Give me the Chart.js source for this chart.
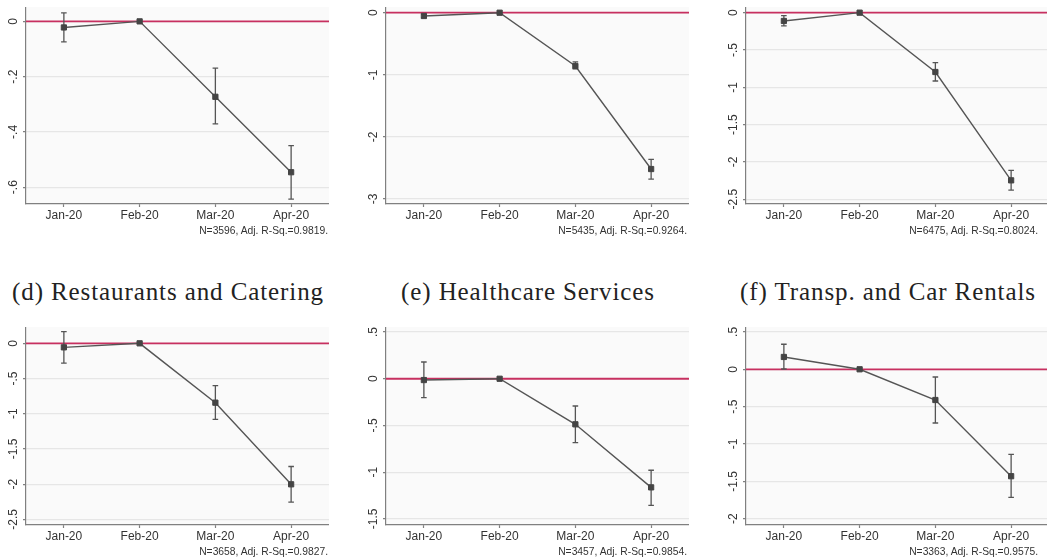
<!DOCTYPE html>
<html><head><meta charset="utf-8">
<script src="https://cdn.jsdelivr.net/npm/chart.js@4.4.1/dist/chart.umd.min.js"></script>
<style>
html,body{margin:0;padding:0;background:#fff;width:1047px;height:558px;overflow:hidden;position:relative;}
canvas{position:absolute;}
.t{position:absolute;font-family:"Liberation Serif",serif;font-size:25px;letter-spacing:0.9px;color:#222;white-space:nowrap;line-height:25px;transform:translateX(-50%);}
.n{position:absolute;font-family:"Liberation Sans",Arial,sans-serif;font-size:10.3px;color:#333;white-space:nowrap;line-height:12px;text-align:right;}
</style></head><body>
<canvas id="pa" width="329" height="227" style="left:0px;top:7px"></canvas>
<canvas id="pb" width="329" height="227" style="left:360px;top:7px"></canvas>
<canvas id="pc" width="329" height="227" style="left:720px;top:7px"></canvas>
<canvas id="pd" width="329" height="228" style="left:0px;top:327px"></canvas>
<canvas id="pe" width="329" height="228" style="left:360px;top:327px"></canvas>
<canvas id="pf" width="329" height="228" style="left:720px;top:327px"></canvas>
<div id="td" class="t" style="left:168px;top:279px"></div>
<div id="te" class="t" style="left:528px;top:279px"></div>
<div id="tf" class="t" style="left:888px;top:279px"></div>
<div id="na" class="n" style="right:719px;top:225px"></div>
<div id="nb" class="n" style="right:360px;top:225px"></div>
<div id="nc" class="n" style="right:9px;top:225px"></div>
<div id="nd" class="n" style="right:719px;top:546px"></div>
<div id="ne" class="n" style="right:360px;top:546px"></div>
<div id="nf" class="n" style="right:9px;top:546px"></div>
<script>
// ---- data ----
const months = ['Jan-20', 'Feb-20', 'Mar-20', 'Apr-20'];

const aCoef = [-0.022, 0, -0.273, -0.546];
const aLo   = [-0.074, 0, -0.371, -0.643];
const aHi   = [ 0.031, 0, -0.169, -0.450];
const aTicks = [0, -0.2, -0.4, -0.6];
const aTickLabels = ['0', '-.2', '-.4', '-.6'];
const aNote = 'N=3596, Adj. R-Sq.=0.9819.';

const bCoef = [-0.053, 0, -0.858, -2.517];
const bLo   = [-0.080, 0, -0.905, -2.680];
const bHi   = [-0.026, 0, -0.790, -2.360];
const bTicks = [0, -1, -2, -3];
const bTickLabels = ['0', '-1', '-2', '-3'];
const bNote = 'N=5435, Adj. R-Sq.=0.9264.';

const cCoef = [-0.111, 0, -0.795, -2.247];
const cLo   = [-0.178, 0, -0.916, -2.377];
const cHi   = [-0.040, 0, -0.670, -2.113];
const cTicks = [0, -0.5, -1, -1.5, -2, -2.5];
const cTickLabels = ['0', '-.5', '-1', '-1.5', '-2', '-2.5'];
const cNote = 'N=6475, Adj. R-Sq.=0.8024.';

const dTitle = '(d) Restaurants and Catering';
const dCoef = [-0.057, 0, -0.843, -2.003];
const dLo   = [-0.280, 0, -1.080, -2.256];
const dHi   = [ 0.165, 0, -0.602, -1.750];
const dTicks = [0, -0.5, -1, -1.5, -2, -2.5];
const dTickLabels = ['0', '-.5', '-1', '-1.5', '-2', '-2.5'];
const dNote = 'N=3658, Adj. R-Sq.=0.9827.';

const eTitle = '(e) Healthcare Services';
const eCoef = [-0.014, 0, -0.488, -1.163];
const eLo   = [-0.203, 0, -0.685, -1.355];
const eHi   = [ 0.179, 0, -0.292, -0.980];
const eTicks = [0.5, 0, -0.5, -1, -1.5];
const eTickLabels = ['.5', '0', '-.5', '-1', '-1.5'];
const eNote = 'N=3457, Adj. R-Sq.=0.9854.';

const fTitle = '(f) Transp. and Car Rentals';
const fCoef = [0.165, 0, -0.411, -1.431];
const fLo   = [0.004, 0, -0.719, -1.714];
const fHi   = [0.335, 0, -0.103, -1.140];
const fTicks = [0.5, 0, -0.5, -1, -1.5, -2];
const fTickLabels = ['.5', '0', '-.5', '-1', '-1.5', '-2'];
const fNote = 'N=3363, Adj. R-Sq.=0.9575.';

// ---- drawing ----
const FONT = '"Liberation Sans", Arial, sans-serif';
const AXIS = '#808080';

const deco = {
  id: 'deco',
  beforeDraw(chart) {
    const {ctx, chartArea: a} = chart;
    ctx.save();
    ctx.fillStyle = '#fafafa';
    ctx.fillRect(a.left, a.top, a.right - a.left, a.bottom - a.top);
    ctx.restore();
  },
  beforeDatasetsDraw(chart, args, opts) {
    const {ctx, chartArea: a, scales: {x, y}} = chart;
    const y0 = y.getPixelForValue(0);
    ctx.save();
    ctx.strokeStyle = '#c73060';
    ctx.lineWidth = 1.8;
    ctx.beginPath(); ctx.moveTo(a.left, y0); ctx.lineTo(a.right, y0); ctx.stroke();
    ctx.strokeStyle = '#555';
    ctx.lineWidth = 1.3;
    opts.lo.forEach((lo, i) => {
      const hi = opts.hi[i];
      if (lo === hi) return;
      const px = x.getPixelForValue(i);
      const p1 = y.getPixelForValue(lo), p2 = y.getPixelForValue(hi);
      ctx.beginPath();
      ctx.moveTo(px, p1); ctx.lineTo(px, p2);
      ctx.moveTo(px - 2.8, p1); ctx.lineTo(px + 2.8, p1);
      ctx.moveTo(px - 2.8, p2); ctx.lineTo(px + 2.8, p2);
      ctx.stroke();
    });
    ctx.restore();
  },
  afterDraw(chart, args, opts) {
    const {ctx, chartArea: a, scales: {y}} = chart;
    ctx.save();
    ctx.font = '12px ' + FONT;
    ctx.fillStyle = '#333';
    ctx.textAlign = 'center';
    ctx.textBaseline = 'middle';
    y.ticks.forEach((t, i) => {
      const py = y.getPixelForValue(t.value);
      ctx.save();
      ctx.translate(a.left - 12.5, py);
      ctx.rotate(-Math.PI / 2);
      ctx.fillText(opts.labels[i], 0, 0);
      ctx.restore();
    });
    ctx.restore();
  }
};

function panel(id, coef, lo, hi, ticks, tickLabels, ymin, ymax) {
  new Chart(document.getElementById(id), {
    type: 'line',
    data: {
      labels: months,
      datasets: [{
        data: coef,
        borderColor: '#555',
        borderWidth: 1.4,
        pointStyle: 'rect',
        pointRadius: 3.7,
        pointBackgroundColor: '#444',
        pointBorderColor: '#444',
        pointBorderWidth: 1,
        tension: 0,
        clip: false
      }]
    },
    options: {
      responsive: false,
      animation: false,
      events: [],
      layout: {padding: 0, autoPadding: false},
      plugins: {
        legend: {display: false},
        tooltip: {enabled: false},
        deco: {lo: lo, hi: hi, labels: tickLabels}
      },
      scales: {
        x: {
          type: 'category',
          offset: true,
          grid: {drawOnChartArea: false, drawTicks: true, tickLength: 3, tickColor: AXIS, tickWidth: 1.2},
          border: {color: AXIS, width: 1.2},
          ticks: {font: {family: FONT, size: 12}, color: '#333', padding: 1, maxRotation: 0, autoSkip: false},
          afterFit: s => { s.height = 30; }
        },
        y: {
          type: 'linear',
          min: ymin,
          max: ymax,
          afterBuildTicks: s => { s.ticks = ticks.map(v => ({value: v})); },
          ticks: {display: false},
          grid: {color: '#e6e6e6', lineWidth: 1.2, drawTicks: true, tickLength: 3, tickColor: AXIS, tickWidth: 1.2},
          border: {color: AXIS, width: 1.2},
          afterFit: s => { s.width = 26; }
        }
      }
    },
    plugins: [deco]
  });
}

panel('pa', aCoef, aLo, aHi, aTicks, aTickLabels, -0.661, 0.052);
panel('pb', bCoef, bLo, bHi, bTicks, bTickLabels, -3.08, 0.092);
panel('pc', cCoef, cLo, cHi, cTicks, cTickLabels, -2.564, 0.076);
panel('pd', dCoef, dLo, dHi, dTicks, dTickLabels, -2.581, 0.232);
panel('pe', eCoef, eLo, eHi, eTicks, eTickLabels, -1.566, 0.554);
panel('pf', fCoef, fLo, fHi, fTicks, fTickLabels, -2.084, 0.566);

document.getElementById('td').textContent = dTitle;
document.getElementById('te').textContent = eTitle;
document.getElementById('tf').textContent = fTitle;
document.getElementById('na').textContent = aNote;
document.getElementById('nb').textContent = bNote;
document.getElementById('nc').textContent = cNote;
document.getElementById('nd').textContent = dNote;
document.getElementById('ne').textContent = eNote;
document.getElementById('nf').textContent = fNote;
</script>
</body></html>
